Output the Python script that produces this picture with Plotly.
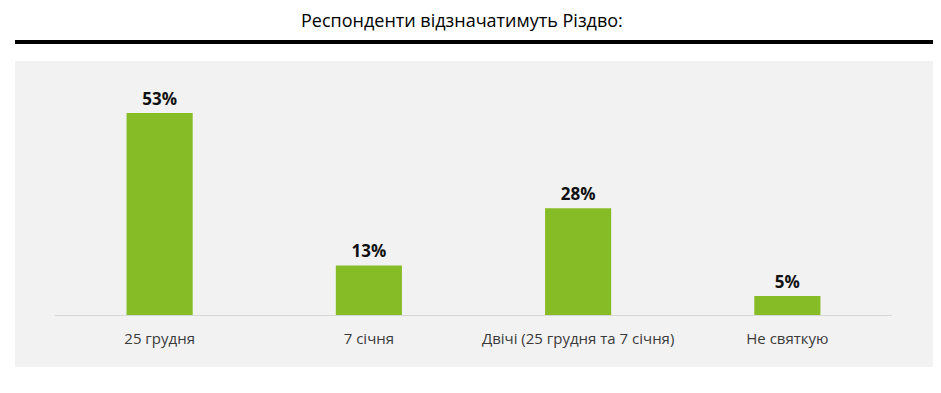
import plotly.graph_objects as go

categories = ["25 грудня", "7 січня", "Двічі (25 грудня та 7 січня)", "Не святкую"]
values = [53, 13, 28, 5]
title_text = "Респонденти відзначатимуть Різдво:"

OFF = 8  # page offset of the figure
W, H = 941 - 2 * OFF, 393 - 2 * OFF
# target pixel positions in the screenshot
left_pix, right_pix, top_pix, base_pix = 55, 892, 62, 315
L = left_pix - OFF
T = top_pix - OFF
R = W - (right_pix - OFF)
B = H - (base_pix - OFF)
plot_h = H - T - B
plot_w = W - L - R

def py(pix):
    return (base_pix - pix) / plot_h

def px(pix):
    return (pix - left_pix) / plot_w

fig = go.Figure()
fig.add_trace(go.Bar(
    x=categories, y=values,
    marker=dict(color="#86bc25", line=dict(width=0)),
    texttemplate="<b>%{y}%</b>", textposition="outside",
    textfont=dict(family="Open Sans", size=17, color="#111111"),
    cliponaxis=False, hoverinfo="skip",
))

fig.update_layout(
    width=W, height=H,
    margin=dict(l=L, r=R, t=T, b=B),
    paper_bgcolor="white", plot_bgcolor="rgba(0,0,0,0)",
    bargap=0.684, showlegend=False,
    font=dict(family="Open Sans", color="#333333"),
    xaxis=dict(showline=True, linecolor="#d6d6d6", linewidth=1,
               ticks="outside", ticklen=10, tickcolor="rgba(0,0,0,0)",
               tickfont=dict(family="Open Sans", size=15, color="#3a3a3a"),
               showgrid=False, zeroline=False, fixedrange=True),
    yaxis=dict(range=[0, plot_h / (202 / 53)], visible=False, showgrid=False,
               zeroline=False, fixedrange=True),
    shapes=[
        dict(type="rect", xref="paper", yref="paper", layer="below",
             x0=px(15), x1=px(933), y0=py(367), y1=py(61),
             fillcolor="#f2f2f2", line=dict(width=0)),
        dict(type="line", xref="paper", yref="paper",
             x0=px(15), x1=px(933), y0=py(42), y1=py(42),
             line=dict(color="#000000", width=4)),
    ],
    annotations=[
        dict(text=title_text, xref="paper", yref="paper",
             x=px(462), y=py(20), xanchor="center", yanchor="middle",
             showarrow=False,
             font=dict(family="Open Sans", size=18, color="#000000")),
    ],
)

fig.write_html("out.html")
